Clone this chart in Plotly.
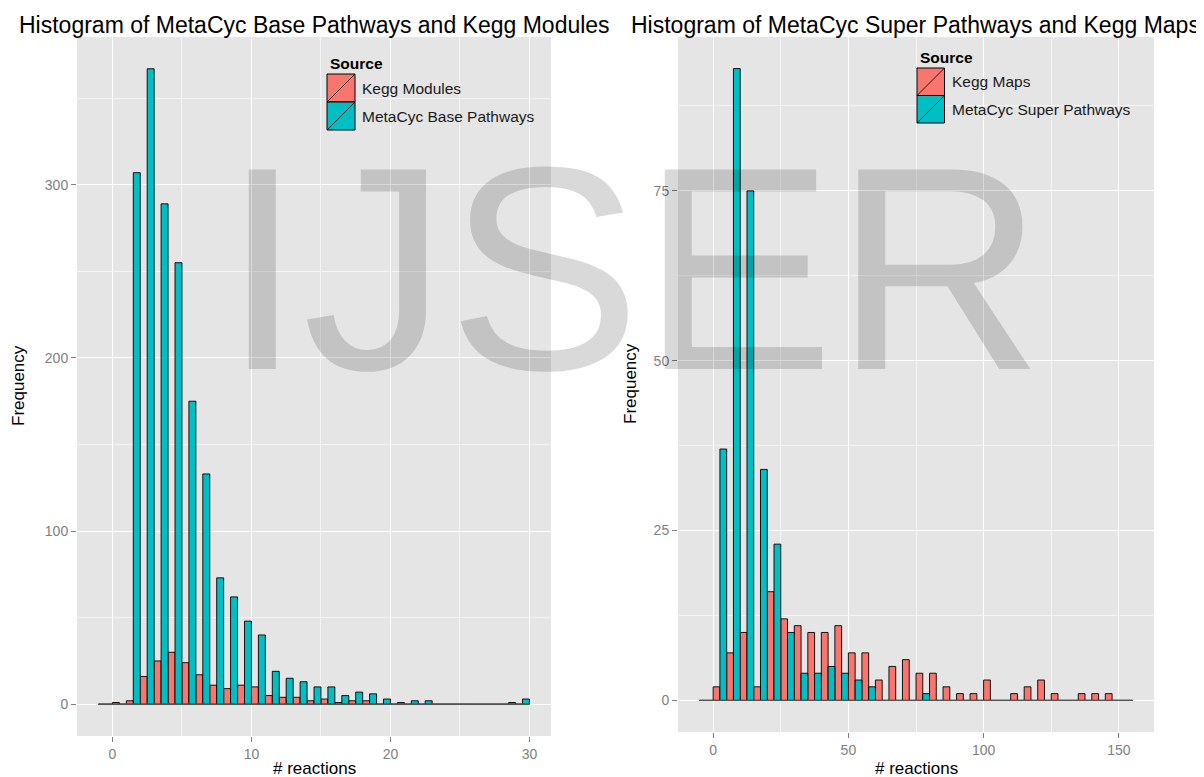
import plotly.graph_objects as go

# ---------------- data ----------------
# Left panel: MetaCyc Base Pathways vs Kegg Modules (bin width 1, left edges)
base_bin_edges = list(range(-1, 30))
base_binwidth = 1
kegg_modules = [0, 1, 2, 16, 25, 30, 24, 17, 11, 9, 11, 10, 5, 4, 4, 2, 3, 1, 2, 2,
                0, 0, 0, 0, 0, 0, 0, 0, 0, 0, 0]
metacyc_base = [0, 0, 307, 367, 289, 255, 175, 133, 73, 62, 48, 40, 19, 15, 13, 10, 10, 5, 7, 6,
                3, 1, 2, 2, 0, 0, 0, 0, 0, 1, 3]

# Right panel: MetaCyc Super Pathways vs Kegg Maps (bin width 5, left edges)
super_bin_edges = list(range(-5, 155, 5))
super_binwidth = 5
kegg_maps = [0, 2, 7, 10, 2, 16, 12, 11, 10, 10, 11, 7, 7, 3, 5, 6, 4, 4, 2, 1, 1, 3,
             0, 1, 2, 3, 1, 0, 1, 1, 1, 0]
metacyc_super = [0, 37, 93, 75, 34, 23, 10, 4, 4, 5, 4, 3, 2, 0, 0, 0, 1, 0, 0, 0, 0, 0,
                 0, 0, 0, 0, 0, 0, 0, 0, 0, 0]

left_xticks = [0, 10, 20, 30]
left_yticks = [0, 100, 200, 300]
right_xticks = [0, 50, 100, 150]
right_yticks = [0, 25, 50, 75]

title_left = "Histogram of MetaCyc Base Pathways and Kegg Modules"
title_right = "Histogram of MetaCyc Super Pathways and Kegg Maps"

RED = "#F8766D"
TEAL = "#00BFC4"
BG = "#E5E5E5"
FONT = "Liberation Sans, Arial, sans-serif"

# the page places the figure 8px in from the top-left corner
OFF = 8
W, H = 1204 - OFF, 777 - OFF


def px(x):
    return (x - OFF) / W


def py(y):
    return 1 - (y - OFF) / H


fig = go.Figure()


def add_panel(edges, bw, red_vals, teal_vals, red_name, teal_name, xa, ya):
    # zero-count baseline (empty bins drawn flat)
    fig.add_trace(go.Scatter(
        x=[edges[0], edges[-1] + bw], y=[0, 0], mode="lines",
        line=dict(color="#555555", width=1.3), xaxis=xa, yaxis=ya,
        showlegend=False, hoverinfo="skip"))
    fig.add_trace(go.Bar(
        x=edges, y=red_vals, width=bw / 2, offset=0, name=red_name,
        marker=dict(color=RED, line=dict(color="black", width=0.9)),
        xaxis=xa, yaxis=ya, showlegend=False))
    fig.add_trace(go.Bar(
        x=edges, y=teal_vals, width=bw / 2, offset=bw / 2, name=teal_name,
        marker=dict(color=TEAL, line=dict(color="black", width=0.9)),
        xaxis=xa, yaxis=ya, showlegend=False))


add_panel(base_bin_edges, base_binwidth, kegg_modules, metacyc_base,
          "Kegg Modules", "MetaCyc Base Pathways", "x", "y")
add_panel(super_bin_edges, super_binwidth, kegg_maps, metacyc_super,
          "Kegg Maps", "MetaCyc Super Pathways", "x2", "y2")


def axis_style(tickvals, minor_dtick, rng, domain, anchor):
    return dict(
        domain=domain, range=rng, anchor=anchor,
        tickmode="array", tickvals=tickvals,
        showgrid=True, gridcolor="white", gridwidth=1.4,
        minor=dict(dtick=minor_dtick, tick0=0, showgrid=True,
                   gridcolor="#F4F4F4", gridwidth=0.7, ticks=""),
        ticks="outside", ticklen=5, tickcolor="#7f7f7f", tickwidth=1,
        tickfont=dict(family=FONT, size=14, color="#7f7f7f"),
        zeroline=False, showline=False, fixedrange=True,
    )


layout = dict(
    width=W, height=H,
    margin=dict(l=0, r=0, t=0, b=0),
    paper_bgcolor="white", plot_bgcolor=BG,
    barmode="overlay", showlegend=False,
    font=dict(family=FONT, color="black"),
    xaxis=axis_style(left_xticks, 5, [-2.55, 31.55], [px(77), px(551)], "y"),
    yaxis=axis_style(left_yticks, 50, [-18.35, 385.35], [py(736), py(37)], "x"),
    xaxis2=axis_style(right_xticks, 25, [-13, 163], [px(678), px(1154)], "y2"),
    yaxis2=axis_style(right_yticks, 12.5, [-4.65, 97.65], [py(732), py(37)], "x2"),
)
fig.update_layout(**layout)

ann = []
shapes = []

# titles
ann.append(dict(text=title_left, x=px(314), y=py(25), xref="paper", yref="paper",
                xanchor="center", yanchor="middle", showarrow=False,
                font=dict(family=FONT, size=23, color="black")))
ann.append(dict(text=title_right, x=px(915), y=py(25), xref="paper", yref="paper",
                xanchor="center", yanchor="middle", showarrow=False,
                font=dict(family=FONT, size=23, color="black")))
# axis titles
for cx in (314, 916):
    ann.append(dict(text="# reactions", x=px(cx), y=py(768), xref="paper", yref="paper",
                    xanchor="center", yanchor="middle", showarrow=False,
                    font=dict(family=FONT, size=17, color="black")))
for cx, cy in ((18, 386), (630, 384)):
    ann.append(dict(text="Frequency", x=px(cx), y=py(cy), xref="paper", yref="paper",
                    xanchor="center", yanchor="middle", showarrow=False, textangle=-90,
                    font=dict(family=FONT, size=17, color="black")))


# legends
def add_legend(x0, ytitle, ykey, size, labels):
    ann.append(dict(text="<b>Source</b>", x=px(x0 + 1), y=py(ytitle), xref="paper", yref="paper",
                    xanchor="left", yanchor="middle", showarrow=False,
                    font=dict(family=FONT, size=15.5, color="black")))
    for i, (lab, col) in enumerate(zip(labels, (RED, TEAL))):
        top = ykey + i * size
        bot = top + size
        shapes.append(dict(type="rect", xref="paper", yref="paper",
                           x0=px(x0), x1=px(x0 + size), y0=py(bot), y1=py(top),
                           fillcolor=col, line=dict(color="black", width=1)))
        shapes.append(dict(type="line", xref="paper", yref="paper",
                           x0=px(x0), x1=px(x0 + size), y0=py(bot), y1=py(top),
                           line=dict(color="black", width=0.8)))
        ann.append(dict(text=lab, x=px(x0 + size + 5), y=py((top + bot) / 2),
                        xref="paper", yref="paper", xanchor="left", yanchor="middle",
                        showarrow=False, font=dict(family=FONT, size=15.5, color="#1a1a1a")))


add_legend(327, 63, 74, 28, ["Kegg Modules", "MetaCyc Base Pathways"])
add_legend(917, 57, 68, 27.5, ["Kegg Maps", "MetaCyc Super Pathways"])

# watermark
ann.append(dict(text="IJSER", x=px(633), y=py(268), xref="paper", yref="paper",
                xanchor="center", yanchor="middle", showarrow=False,
                font=dict(family=FONT, size=290, color="rgba(0,0,0,0.15)")))

fig.update_layout(annotations=ann, shapes=shapes)

fig.write_html("out.html")
